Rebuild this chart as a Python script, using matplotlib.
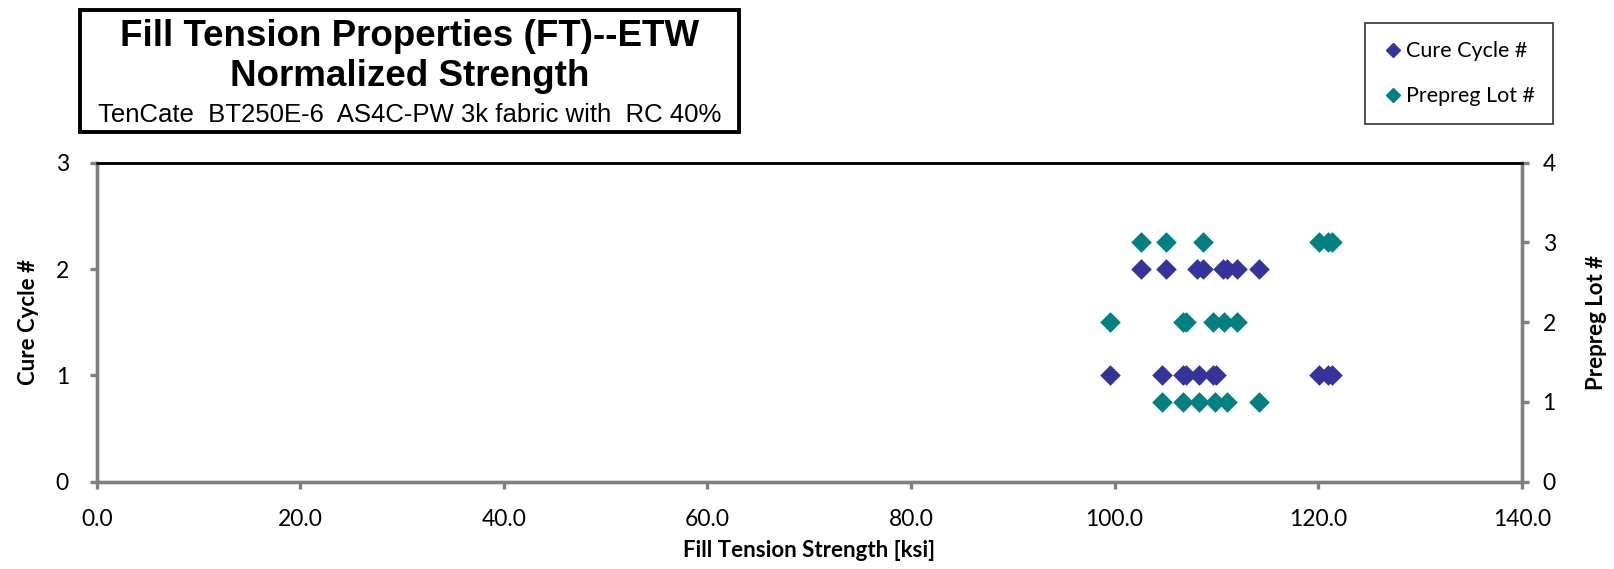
import matplotlib
matplotlib.use("Agg")
import matplotlib.pyplot as plt
from matplotlib.patches import Rectangle
from matplotlib.lines import Line2D

# ---- data ----
cure_strength = [99.6, 104.7, 106.7, 107.0, 108.3, 109.7, 110.0, 120.1, 121.0, 121.4,
                 102.6, 105.1, 108.1, 108.7, 110.7, 111.0, 112.0, 114.2]
cure_cycle = [1, 1, 1, 1, 1, 1, 1, 1, 1, 1,
              2, 2, 2, 2, 2, 2, 2, 2]
lot_strength = [104.7, 106.7, 108.3, 109.9, 111.0, 114.2,
                99.6, 106.7, 107.0, 109.7, 110.8, 112.0,
                102.6, 105.1, 108.7, 120.1, 121.0, 121.4]
lot_number = [1, 1, 1, 1, 1, 1,
              2, 2, 2, 2, 2, 2,
              3, 3, 3, 3, 3, 3]
x_ticks = [0, 20, 40, 60, 80, 100, 120, 140]
left_ticks = [0, 1, 2, 3]
right_ticks = [0, 1, 2, 3, 4]

title1 = "Fill Tension Properties (FT)--ETW"
title2 = "Normalized Strength"
title3 = "TenCate  BT250E-6  AS4C-PW 3k fabric with  RC 40%"

BLUE = "#333399"
TEAL = "#008080"
GRAY = "#808080"
FONT = ["Lato", "DejaVu Sans"]
NARROW = ["Liberation Sans Narrow", "Liberation Sans", "DejaVu Sans"]

W, H = 1614, 569
fig = plt.figure(figsize=(W / 100, H / 100), dpi=100)

left, right, top, bottom = 96.7, 1521.7, 162.7, 481.7
ax = fig.add_axes([left / W, 1 - bottom / H, (right - left) / W, (bottom - top) / H])
ax2 = ax.twinx()

ax.scatter(cure_strength, cure_cycle, marker="D", s=110, color=BLUE, linewidths=0, zorder=3)
ax2.scatter(lot_strength, lot_number, marker="D", s=110, color=TEAL, linewidths=0, zorder=3)

ax.set_xlim(0, 140)
ax.set_ylim(0, 3)
ax2.set_ylim(0, 4)
ax.set_xticks(x_ticks)
ax.set_xticklabels([f"{v:.1f}" for v in x_ticks])
ax.set_yticks(left_ticks)
ax2.set_yticks(right_ticks)

for a in (ax, ax2):
    for s in ("left", "right", "bottom"):
        a.spines[s].set_color(GRAY)
        a.spines[s].set_linewidth(2.4)
    a.spines["top"].set_color("black")
    a.spines["top"].set_linewidth(1.8)
    a.tick_params(colors=GRAY, width=2.4, length=5, direction="out", labelcolor="black",
                  labelsize=16.5)
    for lab in a.get_xticklabels() + a.get_yticklabels():
        lab.set_fontfamily(FONT)
ax.tick_params(axis="x", pad=15)
ax.tick_params(axis="y", pad=15)
ax2.tick_params(axis="y", pad=10)

ax.set_xlabel("Fill Tension Strength [ksi]", fontsize=16, fontweight="bold", family=FONT, labelpad=7)
ax.set_ylabel("Cure Cycle #", fontsize=16, fontweight="bold", family=FONT, labelpad=12)
ax2.set_ylabel("Prepreg Lot #", fontsize=16, fontweight="bold", family=FONT, labelpad=22)

# title box
fig.patches.append(Rectangle((80 / W, 1 - 132 / H), (739 - 80) / W, (132 - 10) / H,
                             transform=fig.transFigure, fill=False, edgecolor="black",
                             linewidth=2.8, zorder=5))
cx = (80 + 739) / 2 / W
fig.text(cx, 1 - 37 / H, title1, ha="center", va="center", fontsize=26.5, fontweight="bold", family=NARROW)
fig.text(cx, 1 - 77 / H, title2, ha="center", va="center", fontsize=26.5, fontweight="bold", family=NARROW)
fig.text(cx, 1 - 115 / H, title3, ha="center", va="center", fontsize=18.5, family=NARROW)

# legend
handles = [Line2D([], [], marker="D", color=BLUE, linestyle="none", markersize=7.5),
           Line2D([], [], marker="D", color=TEAL, linestyle="none", markersize=7.5)]
leg = fig.legend(handles, ["Cure Cycle #", "Prepreg Lot #"], loc="upper left",
                 bbox_to_anchor=(1365 / W, 1 - 23 / H), frameon=True, fancybox=False,
                 edgecolor="black", prop={"family": FONT, "size": 15.5},
                 handletextpad=0.15, handlelength=0.9, labelspacing=1.15,
                 borderpad=0.85, borderaxespad=0)
leg.get_frame().set_linewidth(1.2)

fig.savefig("out.png", dpi=100)
